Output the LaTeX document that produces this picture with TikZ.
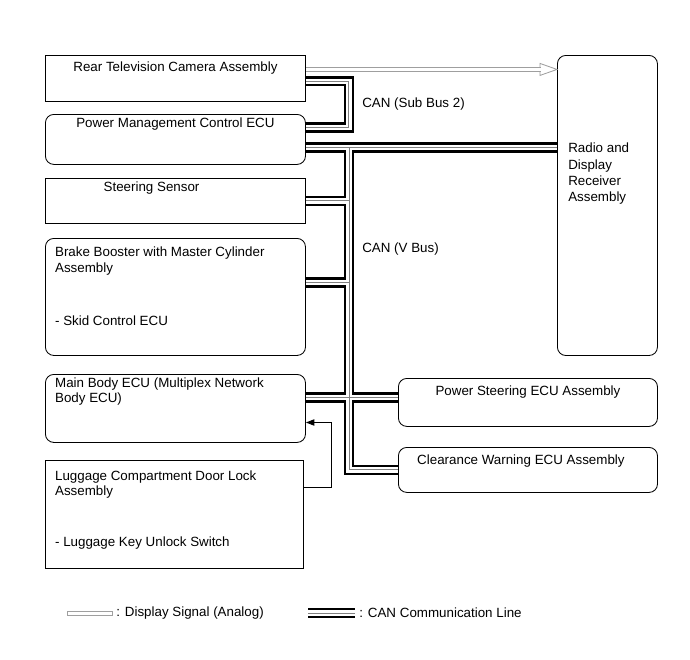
\documentclass[tikz,border=0pt]{standalone}
\usepackage{fontspec}
\setmainfont{Liberation Sans}
\usetikzlibrary{arrows.meta, positioning}

\tikzset{
  unit/.style={draw, line width=0.6pt, anchor=north west, inner sep=0pt},
  ecu/.style={unit, rounded corners=6pt},
  txt/.style={inner sep=0pt, font=\fontsize{9.5}{10.7}\selectfont},
  txtl/.style={txt, align=left, anchor=north west},
  canline/.style={line width=7.4pt, black,
    postaction={draw, white, line width=3.8pt},
    postaction={draw, gray, line width=0.7pt}},
  sigline/.style={draw=gray!75, line width=0.6pt, double=white, double distance=2.4pt},
}

\begin{document}
\begin{tikzpicture}[x=0.025cm, y=-0.025cm]
  \useasboundingbox (0,0) rectangle (690,659);

  % units on the left
  \node[unit, minimum width=6.5cm, minimum height=1.15cm] (rtc) at (45,55) {};
  \node[ecu, minimum width=6.5cm, minimum height=1.25cm] (pmc) at (45,114) {};
  \node[unit, minimum width=6.5cm, minimum height=1.125cm] (ssr) at (45,178) {};
  \node[ecu, minimum width=6.5cm, minimum height=2.925cm] (brk) at (45,238) {};
  \node[ecu, minimum width=6.5cm, minimum height=1.7cm] (mbe) at (45,374) {};
  \node[unit, minimum width=6.45cm, minimum height=2.7cm] (lug) at (45,460) {};
  % units on the right
  \node[ecu, minimum width=2.5cm, minimum height=7.5cm] (rdo) at (557,55) {};
  \node[ecu, minimum width=6.475cm, minimum height=1.2cm] (pse) at (398,378) {};
  \node[ecu, minimum width=6.475cm, minimum height=1.125cm] (cwe) at (398,447) {};

  % names
  \node[txt, below=5pt of rtc.north] (rtct) {Rear Television Camera Assembly};
  \node[txt, below=2.8pt of pmc.north] (pmct) {Power Management Control ECU};
  \node[txt, below=2.8pt of ssr.north, xshift=-17pt] (ssrt) {Steering Sensor};
  \node[txtl, below right=6.4pt and 7pt of brk.north west] (brkt)
    {Brake Booster with Master Cylinder\\Assembly\\[27pt]- Skid Control ECU};
  \node[txtl, below right=2.8pt and 7pt of mbe.north west] (mbet)
    {Main Body ECU (Multiplex Network\\Body ECU)};
  \node[txtl, below right=7.8pt and 7pt of lug.north west] (lugt)
    {Luggage Compartment Door Lock\\Assembly\\[24.9pt]- Luggage Key Unlock Switch};
  \node[txtl, below right=62.6pt and 7.8pt of rdo.north west,
    font=\fontsize{9.5}{11.4}\selectfont] (rdot) {Radio and\\Display\\Receiver\\Assembly};
  \node[txt, below=5pt of pse.north] (pset) {Power Steering ECU Assembly};
  \node[txt, below=5pt of cwe.north, xshift=-5pt] (cwet) {Clearance Warning ECU Assembly};

  % bus names
  \node[txt, anchor=west] (sbl) at (362,104) {CAN (Sub Bus 2)};
  \node[txt, anchor=west] (vbl) at (362,249) {CAN (V Bus)};

  % taps
  \coordinate (vbus) at (349,147);
  \coordinate (sbtop) at ([yshift=-2pt]rtc.east);
  \coordinate (sbbot) at ([yshift=8.5pt]pmc.east);
  \coordinate (pmctap) at ([yshift=-5.7pt]pmc.east);
  \coordinate (brktap) at ([yshift=10.3pt]brk.east);
  \coordinate (mbetap) at ([yshift=7.8pt]mbe.east);
  \coordinate (sigtap) at ([yshift=6.4pt]rtc.east);
  \coordinate (sighead) at (sigtap -| rdo.west);
  \coordinate (lugtap) at ([yshift=19.2pt]lug.east);
  \coordinate (mbein) at ([yshift=-10pt]mbe.east);

  % CAN (Sub Bus 2)
  \draw[canline] (sbtop) -- ++(43,0) |- (sbbot);
  % CAN (V Bus)
  \draw[canline] (pmctap) -- (pmctap -| rdo.west)
    (vbus) |- (cwe.west)
    (ssr.east) -- (ssr.east -| vbus)
    (brktap) -- (brktap -| vbus)
    (mbetap) -- (mbetap -| pse.west);

  % display signal
  \draw[gray!75, line width=0.6pt, fill=white] (sighead) -- ++(-17,-6) -- ++(0,12) -- cycle;
  \draw[sigline] (sigtap) -- ([xshift=-11.3pt]sighead);

  % luggage key unlock switch
  \draw[line width=0.6pt, -{Triangle[length=6pt, width=4.5pt]}] (lugtap) -- ++(28,0) |- (mbein);

  % legend
  \draw[gray!75, line width=0.6pt] (67,611) rectangle (112,615);
  \node[txt, anchor=west] (sigkey) at (116,613) {: Display Signal (Analog)};
  \draw[canline] (308,613) -- (355,613);
  \node[txt, anchor=west] (cankey) at (359,613) {: CAN Communication Line};
\end{tikzpicture}
\end{document}
